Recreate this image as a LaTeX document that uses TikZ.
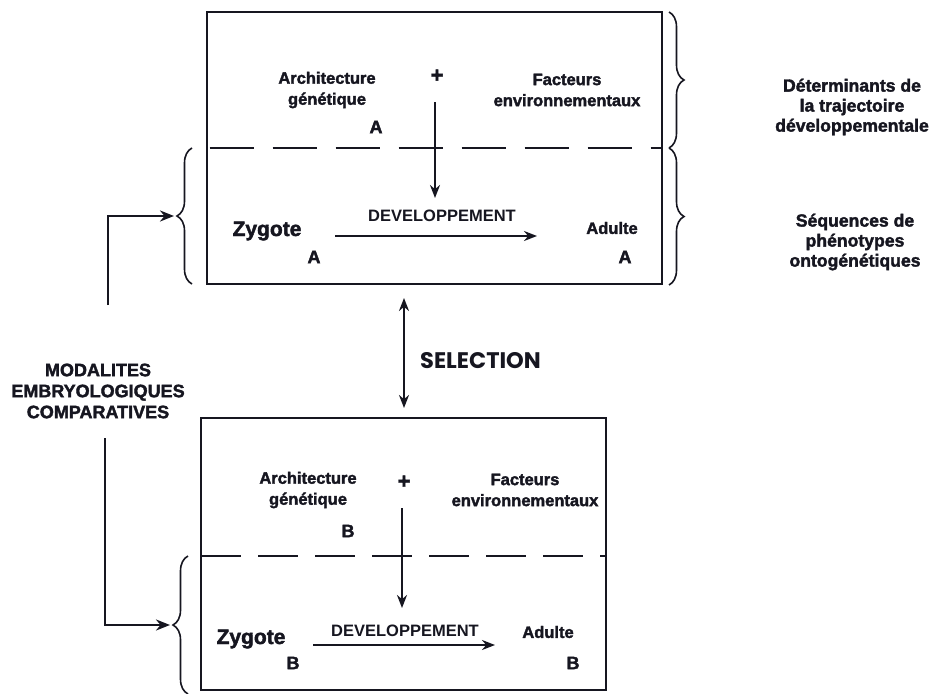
\documentclass[tikz,border=0pt]{standalone}
\usepackage{fontspec}
\setmainfont{Liberation Sans}
\newfontfamily\heavy{Liberation Sans}[BoldFeatures={FakeBold=2}]
\newfontfamily\geofont{Poppins}
\usetikzlibrary{arrows.meta,decorations.pathreplacing}
\definecolor{ink}{RGB}{22,22,32}

\begin{document}
\begin{tikzpicture}[x=1pt,y=-1pt,
  every node/.style={inner sep=0pt, text=ink},
  frame/.style={draw=ink, line width=2.6pt, minimum width=#1},
  divider/.style={draw=ink, line width=2.6pt},
  lbl/.style={font=\heavy\bfseries\fontsize{16.5}{21}\selectfont, align=center},
  side/.style={font=\heavy\bfseries\fontsize{17.6}{20}\selectfont, align=center},
  devtxt/.style={font=\bfseries\fontsize{16.5}{20}\selectfont},
  zyg/.style={font=\heavy\bfseries\fontsize{21}{22}\selectfont},
  letter/.style={font=\heavy\bfseries\fontsize{18}{20}\selectfont},
  plus/.style={font=\heavy\bfseries\fontsize{22}{22}\selectfont},
  seltxt/.style={font=\geofont\bfseries\fontsize{22.5}{24}\selectfont},
  flow/.style={draw=ink, line width=2.2pt, -{Stealth[length=13pt,width=10pt]}},
  conn/.style={draw=ink, line width=2.6pt, -{Stealth[length=14pt,width=11pt]}},
  bracestyle/.style={draw=ink, line width=1.6pt, decorate,
    decoration={brace, amplitude=15pt}}
]
\useasboundingbox[fill=white] (0,0) rectangle (933,693);

% ---------- upper organism A ----------
\node[frame=455pt, minimum height=272pt] (boxA) at (434.5,148) {};
\draw[divider, dash pattern=on 44pt off 19pt, dash phase=-4pt]
  (boxA.west) -- (boxA.east);

\node[lbl] (archA) at (327,90) {Architecture\\génétique};
\node[letter] (gA) at (376,127) {A};
\node[plus] (plusA) at (437,76) {+};
\node[lbl] (factA) at (567,90) {Facteurs\\environnementaux};
\coordinate (vA1) at (435,102);
\coordinate (vA2) at (435,198);
\draw[flow] (vA1) -- (vA2);

\node[devtxt] (devA) at (442,216) {DEVELOPPEMENT};
\node[zyg] (zygA) at (267,231) {Zygote};
\node[letter] (zA) at (314,257) {A};
\node[lbl] (adA) at (612,228) {Adulte};
\node[letter] (aA) at (625,257) {A};
\coordinate (hA1) at (335,236);
\coordinate (hA2) at (537,236);
\draw[flow] (hA1) -- (hA2);

% ---------- lower organism B ----------
\node[frame=405pt, minimum height=272pt] (boxB) at (403.5,554) {};
\coordinate (dB1) at (201,556);
\coordinate (dB2) at (606,556);
\draw[divider, dash pattern=on 40pt off 17pt] (dB1) -- (dB2);

\node[lbl] (archB) at (308,490) {Architecture\\génétique};
\node[letter] (gB) at (348,531) {B};
\node[plus] (plusB) at (404,482) {+};
\node[lbl] (factB) at (525,490) {Facteurs\\environnementaux};
\coordinate (vB1) at (402,508);
\coordinate (vB2) at (402,608);
\draw[flow] (vB1) -- (vB2);

\node[devtxt] (devB) at (405,631) {DEVELOPPEMENT};
\node[zyg] (zygB) at (251,639) {Zygote};
\node[letter] (zB) at (293,663) {B};
\node[lbl] (adB) at (548,632) {Adulte};
\node[letter] (aB) at (573,663) {B};
\coordinate (hB1) at (313,645);
\coordinate (hB2) at (495,645);
\draw[flow] (hB1) -- (hB2);

% ---------- selection between A and B ----------
\coordinate (selT) at (404,298);
\coordinate (selB) at (404,408);
\draw[draw=ink, line width=2.2pt,
  {Stealth[length=13pt,width=10pt]}-{Stealth[length=13pt,width=10pt]}]
  (selT) -- (selB);
\node[seltxt, anchor=west] (sel) at (420,361) {SELECTION};

% ---------- braces on the right ----------
\draw[bracestyle] (669,12) -- (669,148);
\draw[bracestyle] (669,148) -- (669,285);
\node[side] (det) at (852,107) {Déterminants de\\la trajectoire\\développementale};
\node[side] (seq) at (855,242) {Séquences de\\phénotypes\\ontogénétiques};

% ---------- comparative embryology on the left ----------
\draw[bracestyle] (192,284) -- (192,148);
\draw[bracestyle] (188,694) -- (188,556);
\coordinate (tipA) at (174,216);
\coordinate (tipB) at (170,625);
\node[side, font=\heavy\bfseries\fontsize{18}{21}\selectfont] (mod) at (98,391)
  {MODALITES\\EMBRYOLOGIQUES\\COMPARATIVES};
\coordinate (modA) at (108,305);
\coordinate (modB) at (105,438);
\draw[conn] (modA) |- (tipA);
\draw[conn] (modB) |- (tipB);
\end{tikzpicture}
\end{document}
